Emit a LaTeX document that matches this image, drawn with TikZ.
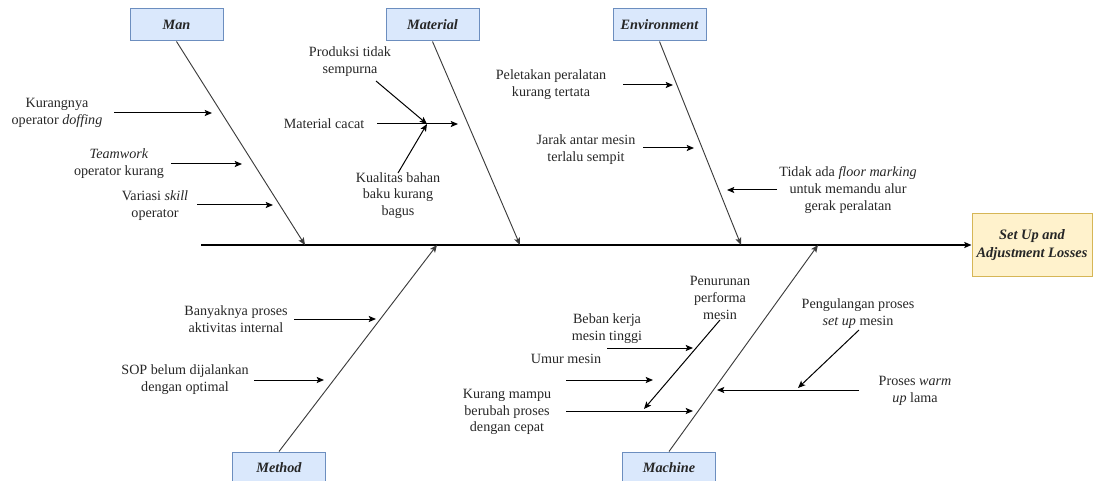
\documentclass[tikz,border=0pt]{standalone}
\usepackage{fontspec}
\setmainfont{Liberation Serif}
\usetikzlibrary{arrows.meta}

\definecolor{catfill}{HTML}{DAE8FC}
\definecolor{catline}{HTML}{6C8EBF}
\definecolor{efffill}{HTML}{FFF2CC}
\definecolor{effline}{HTML}{D6B656}
\definecolor{ink}{HTML}{262626}

\begin{document}
\begin{tikzpicture}[x=0.75pt,y=-0.75pt,
  catbox/.style={draw=catline, fill=catfill, line width=0.75pt,
    minimum width=69.75pt, minimum height=24pt, inner sep=0pt,
    font=\fontsize{10.7}{12}\selectfont\bfseries\itshape, text=ink},
  effbox/.style={draw=effline, fill=efffill, line width=0.75pt,
    minimum width=90pt, minimum height=46.5pt, inner sep=0pt, align=center,
    font=\fontsize{10.8}{13.5}\selectfont\bfseries\itshape, text=ink},
  cause/.style={align=center, inner sep=0pt, text=ink,
    font=\fontsize{10.6}{12.6}\selectfont},
  tip/.style={-{Stealth[length=5.5pt,width=4.6pt,inset=1.2pt]}},
  bone/.style={tip, draw=ink!90, line width=0.7pt},
  sub/.style={tip, draw=black, line width=0.75pt},
  spine/.style={tip, draw=black, line width=1.1pt}]

\useasboundingbox (0,0) rectangle (1093,481);

% ---- effect and spine ----
\node[effbox] (eff) at (1032,245) {Set Up and\\Adjustment Losses};
\coordinate (tail) at (201,245);
\draw[spine] (tail) -- (eff.west);

% points where the main bones meet the spine
\coordinate (jman) at (305,245);
\coordinate (jmat) at (520,245);
\coordinate (jenv) at (741,245);
\coordinate (jmet) at (437,245);
\coordinate (jmac) at (818,245);

% ---- category boxes ----
\node[catbox] (man) at (176.5,25) {Man};
\node[catbox] (mat) at (432.5,25) {Material};
\node[catbox] (env) at (659.5,25) {Environment};
\node[catbox] (met) at (279,468) {Method};
\node[catbox] (mac) at (669,468) {Machine};

% ---- main bones ----
\draw[bone] (man.south) -- (jman);
\draw[bone] (mat.south) -- (jmat);
\draw[bone] (env.south) -- (jenv);
\draw[bone] (met.north) -- (jmet);
\draw[bone] (mac.north) -- (jmac);

% ---- Man ----
\node[cause] (m1) at (57,113) {Kurangnya\\operator \textit{doffing}};
\coordinate (m1s) at (114,113); \coordinate (m1e) at (212,113);
\draw[sub] (m1s) -- (m1e);
\node[cause] (m2) at (119,164) {\textit{Teamwork}\\operator kurang};
\coordinate (m2s) at (171,164); \coordinate (m2e) at (242,164);
\draw[sub] (m2s) -- (m2e);
\node[cause] (m3) at (155,206) {Variasi \textit{skill}\\operator};
\coordinate (m3s) at (197,205); \coordinate (m3e) at (273,205);
\draw[sub] (m3s) -- (m3e);

% ---- Material ----
\node[cause] (t1) at (350,61.5) {Produksi tidak\\sempurna};
\node[cause] (t2) at (324,124) {Material cacat};
\node[cause] (t3) at (398,195.5) {Kualitas bahan\\baku kurang\\bagus};
\coordinate (t1s) at (376,81);
\coordinate (t2s) at (377,124);
\coordinate (t3s) at (398,173);
\coordinate (tj) at (427,124);
\coordinate (te) at (458,124);
\draw[sub] (t1s) -- (tj);
\draw[sub] (t3s) -- (tj);
\draw[sub] (t2s) -- (te);

% ---- Environment ----
\node[cause] (e1) at (551,85) {Peletakan peralatan\\kurang tertata};
\coordinate (e1s) at (623,85); \coordinate (e1e) at (673,85);
\draw[sub] (e1s) -- (e1e);
\node[cause] (e2) at (586,150) {Jarak antar mesin\\terlalu sempit};
\coordinate (e2s) at (643,148); \coordinate (e2e) at (694,148);
\draw[sub] (e2s) -- (e2e);
\node[cause] (e3) at (848,190) {Tidak ada \textit{floor marking}\\untuk memandu alur\\gerak peralatan};
\coordinate (e3s) at (777,190); \coordinate (e3e) at (727,190);
\draw[sub] (e3s) -- (e3e);

% ---- Method ----
\node[cause] (d1) at (236,319) {Banyaknya proses\\aktivitas internal};
\coordinate (d1s) at (294,319); \coordinate (d1e) at (376,319);
\draw[sub] (d1s) -- (d1e);
\node[cause] (d2) at (185,380) {SOP belum dijalankan\\dengan optimal};
\coordinate (d2s) at (254,380); \coordinate (d2e) at (324,380);
\draw[sub] (d2s) -- (d2e);

% ---- Machine ----
\node[cause] (k1) at (720,298) {Penurunan\\performa\\mesin};
\coordinate (k1s) at (720,320); \coordinate (k1e) at (644,409);
\draw[sub] (k1s) -- (k1e);
\node[cause] (k2) at (607,328.5) {Beban kerja\\mesin tinggi};
\coordinate (k2s) at (607,348); \coordinate (k2e) at (693,348);
\draw[sub] (k2s) -- (k2e);
\node[cause] (k3) at (566,359) {Umur mesin};
\coordinate (k3s) at (566,380); \coordinate (k3e) at (653,380);
\draw[sub] (k3s) -- (k3e);
\node[cause] (k4) at (507,412) {Kurang mampu\\berubah proses\\dengan cepat};
\coordinate (k4s) at (566,411); \coordinate (k4e) at (693,411);
\draw[sub] (k4s) -- (k4e);
\node[cause] (k5) at (858,313.5) {Pengulangan proses\\\textit{set up} mesin};
\coordinate (k5s) at (859,330); \coordinate (k5e) at (798,388);
\draw[sub] (k5s) -- (k5e);
\node[cause] (k6) at (915,391) {Proses \textit{warm}\\\textit{up} lama};
\coordinate (k6s) at (859,390); \coordinate (k6e) at (717,390);
\draw[sub] (k6s) -- (k6e);

\end{tikzpicture}
\end{document}
